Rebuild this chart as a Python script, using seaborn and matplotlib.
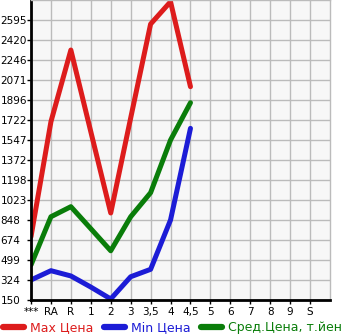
import numpy as np
import pandas as pd
import matplotlib
matplotlib.use("Agg")
import matplotlib.pyplot as plt
import seaborn as sns
from matplotlib.lines import Line2D

categories = ["***", "RA", "R", "1", "2", "3", "3,5", "4", "4,5", "5", "6", "7", "8", "9", "S"]
max_price = [703, 1707, 2333, 1620, 910, 1739, 2560, 2755, 2013]
min_price = [325, 406, 360, 263, 159, 353, 418, 849, 1649]
avg_price = [456, 877, 965, 773, 580, 877, 1087, 1547, 1873]
y_ticks = [150, 324, 499, 674, 848, 1023, 1198, 1372, 1547, 1722, 1896, 2071, 2246, 2420, 2595]
series_names = ["Max Цена", "Min Цена", "Сред.Цена, т.йен"]
colors = ["#dd1c1c", "#1c1cd6", "#0a7d0a"]

rows = []
for name, vals in zip(series_names, [max_price, min_price, avg_price]):
    for i, v in enumerate(vals):
        rows.append({"pos": i, "value": v, "series": name})
df = pd.DataFrame(rows)

sns.set_style("white")
plt.rcParams["font.family"] = ["DejaVu Sans"]

fig = plt.figure(figsize=(3.45, 3.35), dpi=100)
ax = fig.add_axes([31 / 345, 1 - 300 / 335, 299 / 345, 300 / 335])
ax.set_facecolor("#f7f7f7")

sns.lineplot(data=df, x="pos", y="value", hue="series", palette=colors,
             hue_order=series_names, linewidth=3.6, ax=ax, legend=False,
             sort=False, solid_capstyle="round", solid_joinstyle="round")

ax.set_xlim(0, 15)
ax.set_ylim(150, 2770)
ax.set_xticks(range(len(categories)))
ax.set_xticklabels(categories, fontsize=7.5)
ax.set_yticks(y_ticks)
ax.set_yticklabels([str(t) for t in y_ticks], fontsize=7.5, ha="left")
ax.set_xlabel("")
ax.set_ylabel("")

ax.grid(True, color="#bbbbbb", linewidth=1)
ax.set_axisbelow(True)
for s in ["left", "bottom"]:
    ax.spines[s].set_color("black")
    ax.spines[s].set_linewidth(2)
for s in ["top", "right"]:
    ax.spines[s].set_color("#bbbbbb")
    ax.spines[s].set_linewidth(1)

ax.tick_params(axis="y", length=3, width=1, pad=19, colors="black", direction="out", left=True)
ax.tick_params(axis="x", length=3, width=1, pad=2, colors="black", direction="out", bottom=True)

handles = [Line2D([0], [0], color=c, linewidth=4.5, solid_capstyle="round") for c in colors]
leg = fig.legend(handles, series_names, loc="lower center", bbox_to_anchor=(0.5, -0.005),
                 ncol=3, frameon=False, fontsize=9.0, handlelength=1.7, handletextpad=0.5,
                 columnspacing=0.8, borderaxespad=0.1, borderpad=0.1)
for t, c in zip(leg.get_texts(), colors):
    t.set_color(c)

fig.savefig("out.png", dpi=100)
